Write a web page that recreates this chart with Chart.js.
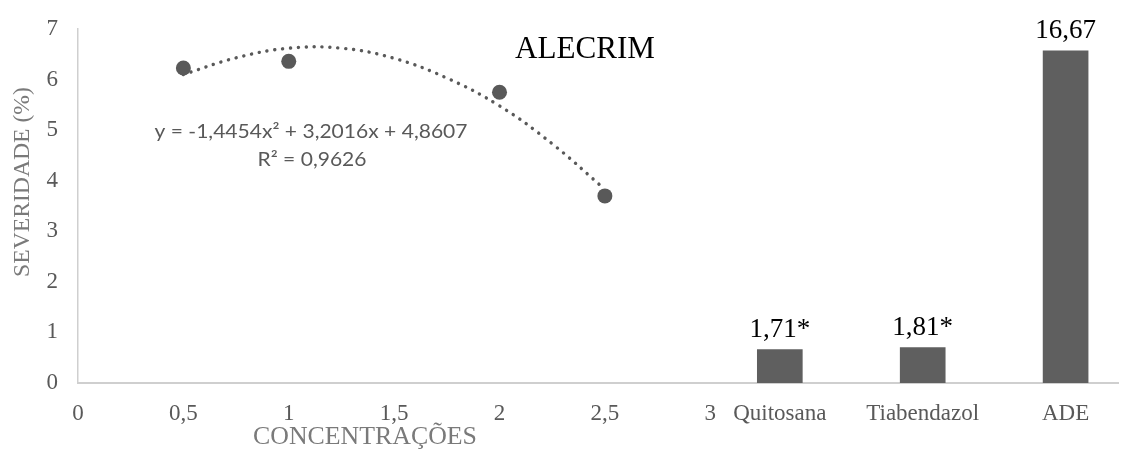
<!DOCTYPE html>
<html>
<head>
<meta charset="utf-8">
<script src="https://cdn.jsdelivr.net/npm/chart.js@4.4.1/dist/chart.umd.min.js"></script>
<style>
  html, body { margin: 0; padding: 0; background: #ffffff; }
  #wrap { width: 1126px; height: 450px; position: relative; }
</style>
</head>
<body>
<div id="wrap"><canvas id="c" width="1126" height="450"></canvas></div>
<script>
// ---- data ----
const concentrations = [0.5, 1, 2, 2.5];
const severity = [6.23, 6.36, 5.75, 3.70];

// dotted trendline, values
const trendX = [0.5, 0.75, 1, 1.25, 1.5, 1.75, 2, 2.25, 2.5];
const trendY = [6.10, 6.43, 6.62, 6.62, 6.42, 6.03, 5.48, 4.73, 3.83];

const treatments = ['Quitosana', 'Tiabendazol', 'ADE'];
const treatmentBars = [0.66, 0.70, 6.57];
const treatmentLabels = ['1,71*', '1,81*', '16,67'];

const xTickValues = [0, 0.5, 1, 1.5, 2, 2.5, 3];
const xTickLabels = ['0', '0,5', '1', '1,5', '2', '2,5', '3'];
const yTickValues = [0, 1, 2, 3, 4, 5, 6, 7];

const chartTitle = 'ALECRIM';
const yTitle = 'SEVERIDADE (%)';
const xTitle = 'CONCENTRAÇÕES';
const equationText = 'y = -1,4454x² + 3,2016x + 4,8607';
const r2Text = 'R² = 0,9626';

// ---- layout helpers ----
const treatStart = 3.33, treatStep = 0.678;
const treatPos = treatments.map((t, i) => treatStart + i * treatStep);
const tickMap = new Map();
xTickValues.forEach((v, i) => tickMap.set(v, xTickLabels[i]));
treatPos.forEach((v, i) => tickMap.set(v, treatments[i]));
const allTicks = xTickValues.concat(treatPos);

const serif = '"Liberation Serif", "Times New Roman", serif';
const sans = 'Lato, "Liberation Sans", sans-serif';

function fitFont(ctx, text, family, targetW, weight) {
  let size = 20;
  ctx.font = (weight || '') + ' ' + size + 'px ' + family;
  const w = ctx.measureText(text).width;
  size = size * targetW / w;
  return (weight || '') + ' ' + size.toFixed(2) + 'px ' + family;
}

const textPlugin = {
  id: 'texts',
  afterDraw(chart) {
    const ctx = chart.ctx;
    ctx.save();
    ctx.textAlign = 'center';
    ctx.textBaseline = 'middle';

    // title
    ctx.fillStyle = '#000000';
    ctx.font = fitFont(ctx, chartTitle, serif, 140);
    ctx.fillText(chartTitle, 585, 50);

    // equation and R2 (Calibri-like proportions: condensed horizontally)
    ctx.fillStyle = '#595959';
    ctx.font = '19px ' + sans;
    const sx = 313 / ctx.measureText(equationText).width;
    ctx.save();
    ctx.translate(311, 132);
    ctx.scale(sx, 1);
    ctx.fillText(equationText, 0, 0);
    ctx.restore();
    ctx.save();
    ctx.translate(312, 160);
    ctx.scale(sx, 1);
    ctx.fillText(r2Text, 0, 0);
    ctx.restore();

    // axis titles
    ctx.fillStyle = '#7a7a7a';
    ctx.font = fitFont(ctx, xTitle, serif, 224);
    ctx.fillText(xTitle, 365, 437);
    ctx.save();
    ctx.translate(23, 182);
    ctx.rotate(-Math.PI / 2);
    ctx.font = fitFont(ctx, yTitle, serif, 190);
    ctx.fillText(yTitle, 0, 0);
    ctx.restore();

    // bar value labels
    const meta = chart.getDatasetMeta(2);
    ctx.fillStyle = '#000000';
    ctx.font = '27px ' + serif;
    ctx.textBaseline = 'alphabetic';
    meta.data.forEach((bar, i) => {
      ctx.fillText(treatmentLabels[i], bar.x, bar.y - 13);
    });
    ctx.restore();
  }
};

new Chart(document.getElementById('c'), {
  type: 'scatter',
  data: {
    datasets: [
      {
        type: 'line',
        label: 'Tendência',
        data: trendX.map((x, i) => ({ x: x, y: trendY[i] })),
        borderColor: '#595959',
        borderWidth: 3.4,
        borderDash: [0.1, 7.8],
        borderCapStyle: 'round',
        pointRadius: 0,
        tension: 0.4,
        fill: false,
        order: 3
      },
      {
        type: 'scatter',
        label: 'Alecrim',
        data: concentrations.map((x, i) => ({ x: x, y: severity[i] })),
        backgroundColor: '#595959',
        borderWidth: 0,
        pointRadius: 7.5,
        order: 1
      },
      {
        type: 'bar',
        label: 'Tratamentos',
        data: treatPos.map((x, i) => ({ x: x, y: treatmentBars[i] })),
        backgroundColor: '#5f5f5f',
        borderWidth: 0,
        barThickness: 45,
        order: 2
      }
    ]
  },
  options: {
    responsive: false,
    animation: false,
    layout: { padding: { top: 29, right: 0, left: 0, bottom: 0 } },
    plugins: {
      legend: { display: false },
      tooltip: { enabled: false }
    },
    scales: {
      x: {
        type: 'linear',
        min: 0,
        max: 4.937,
        offset: false,
        grid: { display: false, drawTicks: false },
        border: { display: true, color: '#cfcfcf', width: 2 },
        afterBuildTicks(scale) {
          scale.ticks = allTicks.map(v => ({ value: v }));
        },
        afterFit(scale) { scale.height = 67; },
        ticks: {
          autoSkip: false,
          maxRotation: 0,
          minRotation: 0,
          padding: 17,
          color: '#595959',
          font: { family: serif, size: 23 },
          callback(value) { return tickMap.has(value) ? tickMap.get(value) : ''; }
        }
      },
      y: {
        min: 0,
        max: 7,
        grid: { display: false, drawTicks: false },
        border: { display: true, color: '#cfcfcf', width: 1.5 },
        afterBuildTicks(scale) {
          scale.ticks = yTickValues.map(v => ({ value: v }));
        },
        afterFit(scale) { scale.width = 78; },
        ticks: {
          padding: 20,
          color: '#595959',
          font: { family: serif, size: 23, lineHeight: 0.5 },
          callback(value) { return String(value); }
        }
      }
    }
  },
  plugins: [textPlugin]
});
</script>
</body>
</html>
